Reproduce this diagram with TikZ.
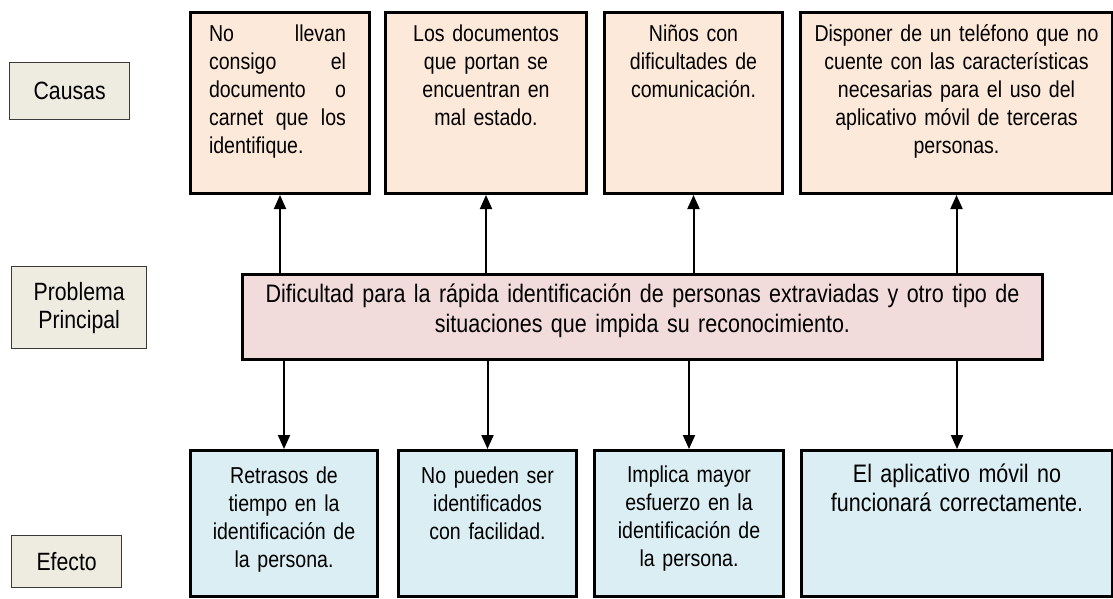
\documentclass[tikz,border=0pt]{standalone}
\usepackage{fontspec}
\setmainfont{Liberation Sans}[FakeStretch=0.85]
\usetikzlibrary{arrows.meta}
\definecolor{causefill}{HTML}{FDE9D9}
\definecolor{mainfill}{HTML}{F2DCDB}
\definecolor{efffill}{HTML}{DBEEF3}
\definecolor{labfill}{HTML}{EEECE1}
\definecolor{labdraw}{HTML}{3A3A3A}
\tikzset{
  bigbox/.style={draw=black, line width=3pt, rectangle, inner sep=0pt, anchor=north west},
  causebox/.style={bigbox, fill=causefill},
  mainbox/.style={bigbox, fill=mainfill},
  effbox/.style={bigbox, fill=efffill},
  labbox/.style={draw=labdraw, line width=1.3pt, fill=labfill, rectangle, inner sep=0pt, anchor=north west,
     align=center, font=\fontsize{25}{28}\selectfont},
  smalltxt/.style={anchor=base, inner sep=0pt, align=center, font=\fontsize{23}{28}\selectfont},
  bigtxt/.style={anchor=base, inner sep=0pt, align=center},
  arr/.style={line width=2pt, -{Triangle[width=12pt,length=14pt]}},
}
\newcommand{\jline}[1]{\makebox[137pt][l]{#1}}
\begin{document}
\begin{tikzpicture}[x=1pt,y=-1pt]
\useasboundingbox (0,0) rectangle (1113,599);
\fill[white] (0,0) rectangle (1113,599);
% labels
\node[labbox, minimum width=120pt, minimum height=57pt] (lcaus) at (9,62) {Causas};
\node[labbox, minimum width=135pt, minimum height=82pt] (lprob) at (11,266) {Problema\\Principal};
\node[labbox, minimum width=110pt, minimum height=52pt] (lefec) at (11,535) {Efecto};
% causes
\node[causebox, minimum width=179pt, minimum height=181pt] (c1) at (189,11) {};
\node[causebox, minimum width=201pt, minimum height=181pt] (c2) at (384,11) {};
\node[causebox, minimum width=178pt, minimum height=181pt] (c3) at (603,11) {};
\node[causebox, minimum width=312pt, minimum height=181pt] (c4) at (799,11) {};
\node[smalltxt, text width=137pt, align=left] (c1t) at (277.5,42) {%
\jline{No\hfill llevan}\\
\jline{consigo\hfill el}\\
\jline{documento\hfill o}\\
\jline{carnet\hfill que\hfill los}\\
\jline{identifique.\hfill}};
\node[smalltxt, text width=190pt] (c2t) at (c2.north |- 0,42) {Los documentos\\que portan se\\encuentran en\\mal estado.};
\node[smalltxt, text width=170pt] (c3t) at (c3.north |- 0,42) {Niños con\\dificultades de\\comunicación.};
\node[smalltxt, text width=300pt] (c4t) at (c4.north |- 0,42) {Disponer de un teléfono que no\\cuente con las características\\necesarias para el uso del\\aplicativo móvil de terceras\\personas.};
% main
\node[mainbox, minimum width=800pt, minimum height=85pt] (main) at (241,273) {};
\node[bigtxt, text width=790pt, font=\fontsize{25.3}{30}\selectfont] (maint) at (main.north |- 0,302) {Dificultad para la rápida identificación de personas extraviadas y otro tipo de\\situaciones que impida su reconocimiento.};
% effects
\node[effbox, minimum width=187pt, minimum height=146pt] (e1) at (189,449) {};
\node[effbox, minimum width=178pt, minimum height=146pt] (e2) at (397,449) {};
\node[effbox, minimum width=189pt, minimum height=146pt] (e3) at (593,449) {};
\node[effbox, minimum width=311pt, minimum height=146pt] (e4) at (800,449) {};
\node[smalltxt, text width=180pt] (e1t) at (e1.north |- 0,483) {Retrasos de\\tiempo en la\\identificación de\\la persona.};
\node[smalltxt, text width=170pt] (e2t) at (e2.north |- 0,483) {No pueden ser\\identificados\\con facilidad.};
\node[smalltxt, text width=180pt] (e3t) at (e3.north |- 0,482) {Implica mayor\\esfuerzo en la\\identificación de\\la persona.};
\node[bigtxt, text width=300pt, font=\fontsize{25.3}{29}\selectfont] (e4t) at (e4.north |- 0,482) {El aplicativo móvil no\\funcionará correctamente.};
% arrows
\foreach \c in {c1,c2,c3,c4} \draw[arr] (main.north -| \c.south) -- (\c.south);
\foreach \e in {e1,e2,e3,e4} \draw[arr] (main.south -| \e.north) -- (\e.north);
\end{tikzpicture}
\end{document}
